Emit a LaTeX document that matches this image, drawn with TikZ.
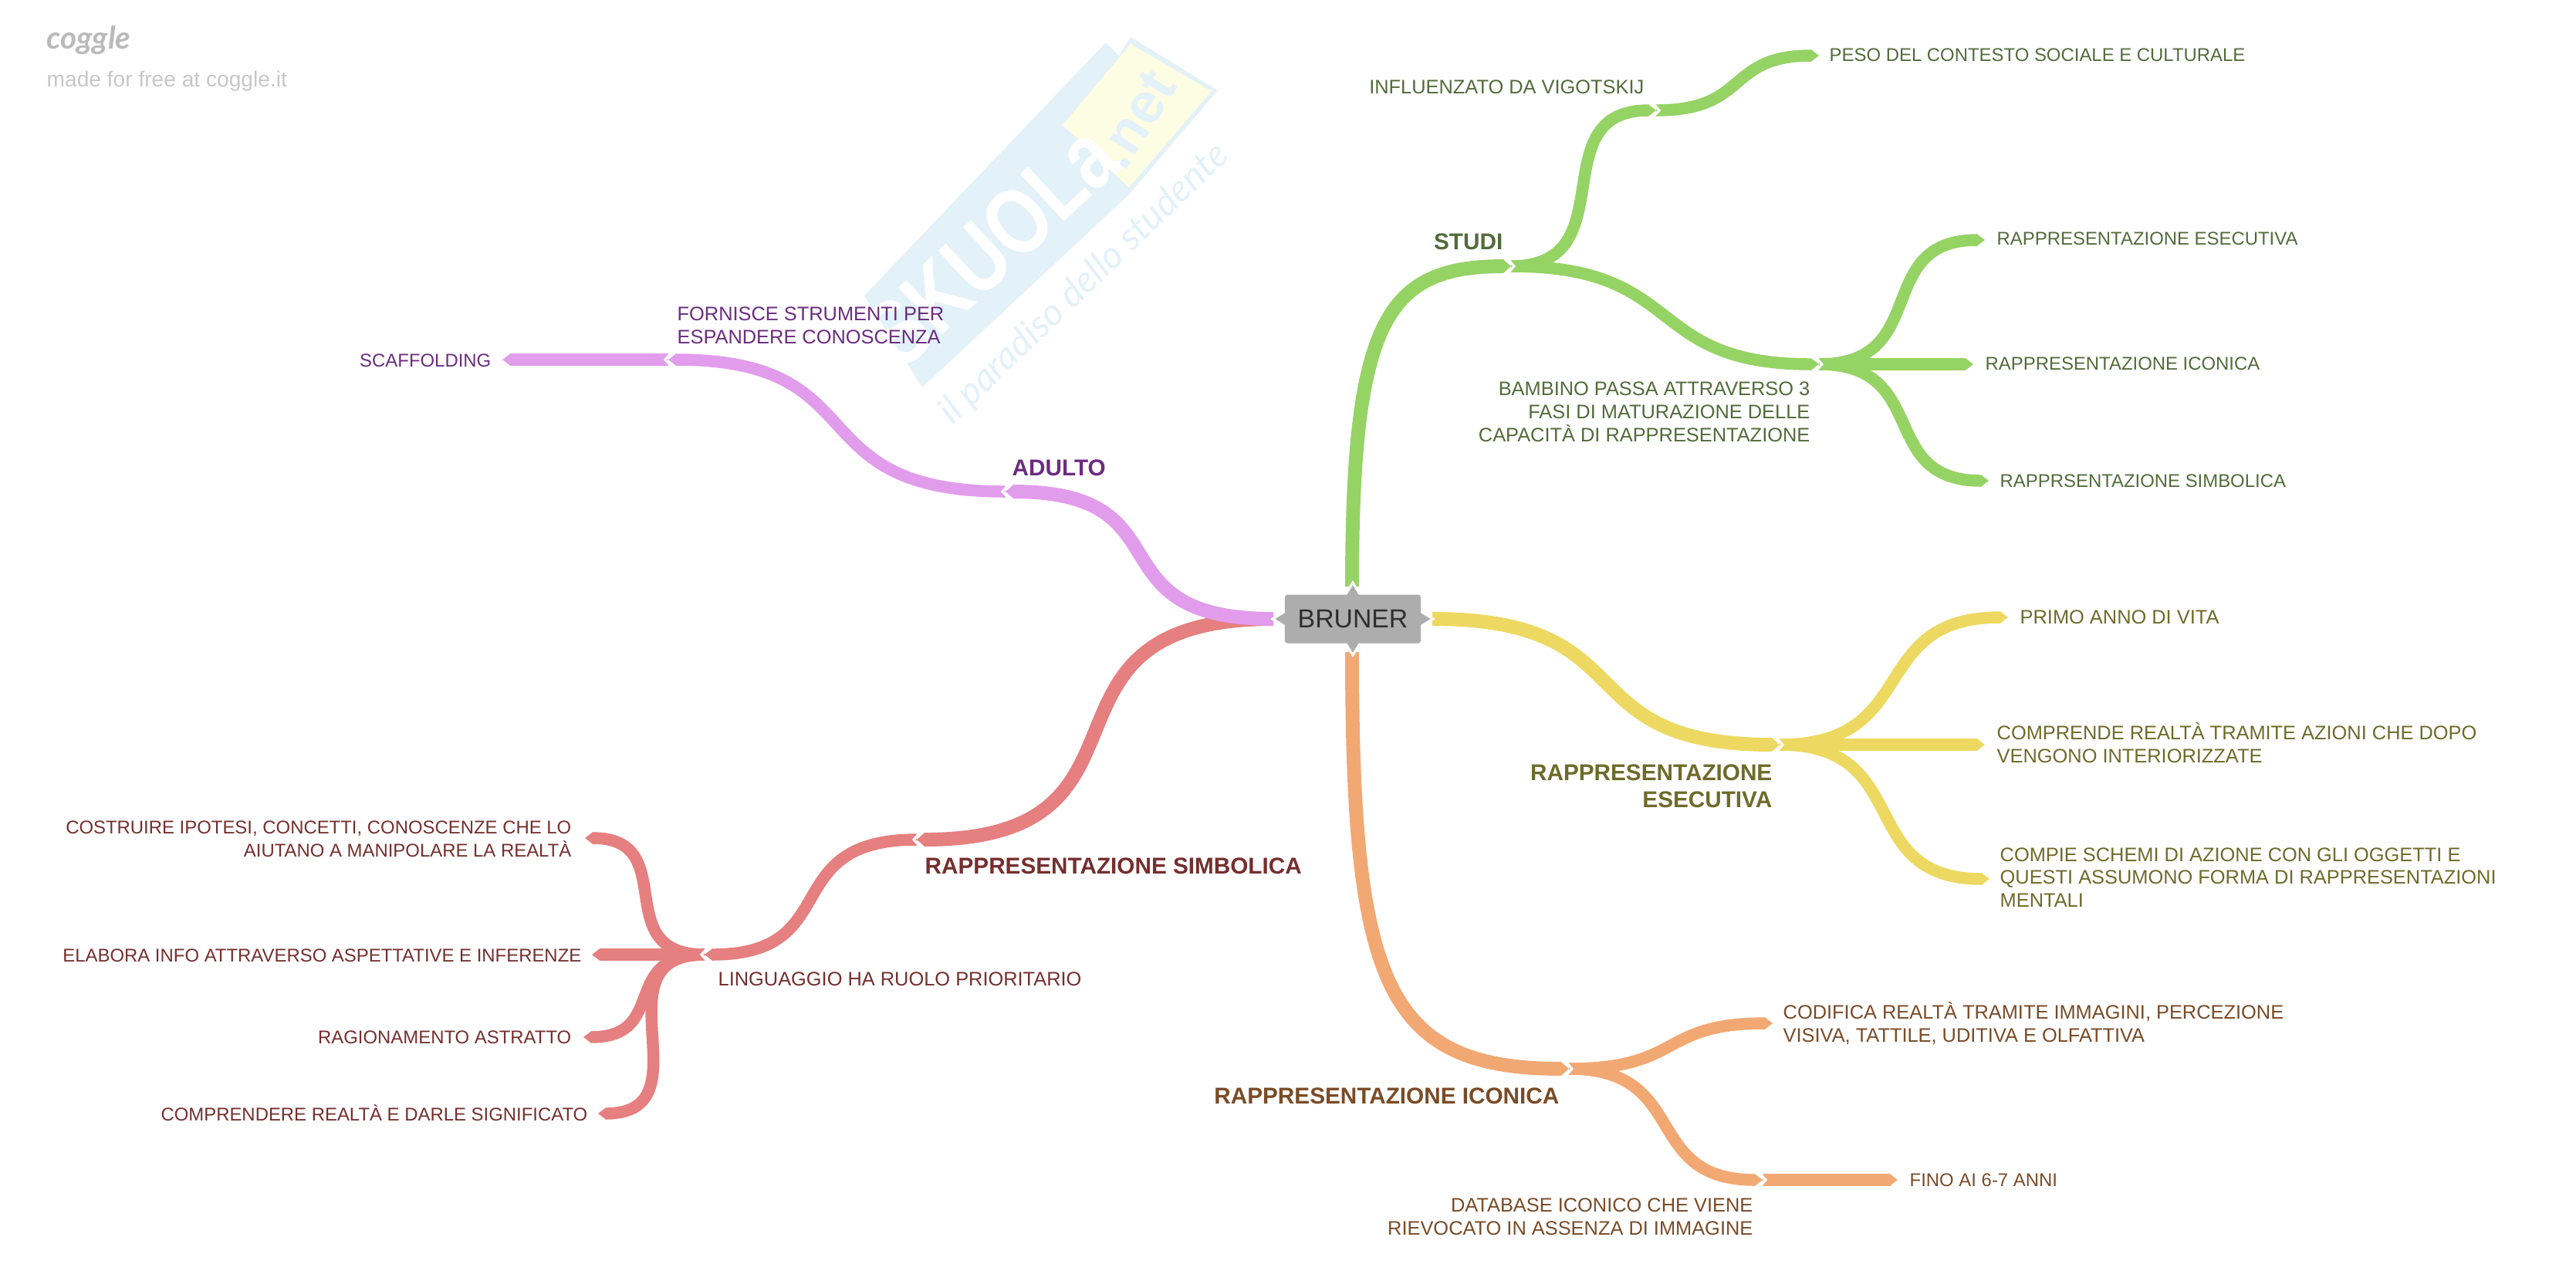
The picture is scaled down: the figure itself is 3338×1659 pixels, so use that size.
\documentclass[tikz,border=0pt]{standalone}
\usepackage{fontspec}
\setmainfont{Liberation Sans}
\newfontfamily\cursivo{Lato}
\usetikzlibrary{arrows.meta}
\definecolor{vedeB}{HTML}{96D365}
\definecolor{vedeT}{HTML}{526B3A}
\definecolor{gialB}{HTML}{EDD961}
\definecolor{gialT}{HTML}{6E6B2A}
\definecolor{araB}{HTML}{F2A873}
\definecolor{araT}{HTML}{7A4B27}
\definecolor{rosaB}{HTML}{E29CEC}
\definecolor{rosaT}{HTML}{6B2C80}
\definecolor{rossoB}{HTML}{E67F7F}
\definecolor{rossoT}{HTML}{752E2E}
\definecolor{logoB}{HTML}{E3F1F9}
\definecolor{logoG}{HTML}{FDFDE3}
\tikzset{
	ramo/.style={line width=#1pt, -{Triangle[length=3pt,width=#1pt]}},
	ramo/.default=4.4,
	tronco/.style={ramo=5.1},
	taglio/.style={white, line width=0.9pt, line join=miter},
	foglia/.style={inner sep=0pt, font=\fontsize{7.22}{8.5}\selectfont},
	foglina/.style={inner sep=0pt, font=\fontsize{6.8}{8.5}\selectfont},
	titolo/.style={inner sep=0pt, font=\fontsize{8.45}{10}\selectfont\bfseries},
}
\begin{document}
\begin{tikzpicture}[x=0.01cm,y=-0.01cm]
	\useasboundingbox (0,0) rectangle (3338,1659);

	% Logo di sfondo
	\fill[logoB] (1120,383) -- (1433,55) -- (1450,72) -- (1465,48) -- (1578,117) -- (1463,252) -- (1195,502) -- cycle;
	\fill[logoG] (1377,162) -- (1465,57) -- (1570,118) -- (1463,243) -- cycle;
	\node[rotate=43,xscale=.8,transform shape,white,inner sep=0pt,font=\fontsize{34.5}{34.5}\selectfont\bfseries] (sk) at (1285,318) {SKUOLa};
	\node[rotate=58,logoB,inner sep=0pt,font=\fontsize{21}{21}\selectfont\bfseries] (ne) at (1472,155) {.net};
	\node[rotate=44,logoB,inner sep=0pt,font=\fontsize{13.8}{13.8}\selectfont\cursivo\itshape] (pa) at (1405,368) {il paradiso dello studente};
	\node[anchor=west,inner sep=0pt,text=black!27,font=\fontsize{11.5}{11.5}\selectfont\cursivo\itshape\bfseries] (co) at (60,52) {coggle};
	\node[anchor=west,inner sep=0pt,text=black!22,font=\fontsize{8}{8}\selectfont] (fr) at (60,105) {made for free at coggle.it};

	% Giunzioni
	\coordinate (rg) at (1752,760);
	\coordinate (rb) at (1752,845);
	\coordinate (rl) at (1650,802);
	\coordinate (rr) at (1856,802);
	\coordinate (st) at (1958,345);
	\coordinate (vi) at (2146,143);
	\coordinate (ba) at (2357,472);
	\coordinate (es) at (2306,965);
	\coordinate (ic) at (2033,1385);
	\coordinate (db) at (2284,1529);
	\coordinate (ad) at (1303,637);
	\coordinate (fo) at (866,466);
	\coordinate (si) at (1188,1088);
	\coordinate (li) at (913,1237);
	% Estremi liberi
	\coordinate (e1) at (2357,72);
	\coordinate (e2) at (2572,311);
	\coordinate (e3) at (2557,472);
	\coordinate (e4) at (2577,623);
	\coordinate (e5) at (2602,800);
	\coordinate (e6) at (2572,965);
	\coordinate (e7) at (2578,1139);
	\coordinate (e8) at (2297,1326);
	\coordinate (e9) at (2459,1529);
	\coordinate (e10) at (651,466);
	\coordinate (e11) at (758,1086);
	\coordinate (e12) at (767,1237);
	\coordinate (e13) at (756,1344);
	\coordinate (e14) at (775,1443);

	% Rami
	\draw[tronco,rossoB] (rl) to[out=180,in=0,looseness=1.6] (si);
	\draw[ramo,rossoB] (si) to[out=180,in=0,looseness=1.5] (li);
	\draw[ramo,rossoB] (li) to[out=180,in=0,looseness=1.5] (e11);
	\draw[ramo,rossoB] (li) -- (e12);
	\draw[ramo,rossoB] (li) to[out=180,in=0,looseness=1.5] (e13);
	\draw[ramo,rossoB] (li) to[out=180,in=0,looseness=1.5] (e14);
	\draw[tronco,rosaB] (rl) to[out=180,in=0,looseness=1.6] (ad);
	\draw[ramo,rosaB] (ad) to[out=180,in=0,looseness=1.5] (fo);
	\draw[ramo,rosaB] (fo) -- (e10);
	\draw[tronco,vedeB] (rg) to[out=90,in=180,out looseness=1.9,in looseness=.9] (st);
	\draw[ramo,vedeB] (st) to[out=0,in=180,looseness=1.4] (vi);
	\draw[ramo,vedeB] (vi) to[out=0,in=180,looseness=1.4] (e1);
	\draw[ramo,vedeB] (st) to[out=0,in=180,looseness=1.4] (ba);
	\draw[ramo,vedeB] (ba) to[out=0,in=180,looseness=1.4] (e2);
	\draw[ramo,vedeB] (ba) -- (e3);
	\draw[ramo,vedeB] (ba) to[out=0,in=180,looseness=1.4] (e4);
	\draw[tronco,gialB] (rr) to[out=0,in=180,looseness=1.5] (es);
	\draw[ramo,gialB] (es) to[out=0,in=180,looseness=1.4] (e5);
	\draw[ramo,gialB] (es) -- (e6);
	\draw[ramo,gialB] (es) to[out=0,in=180,looseness=1.4] (e7);
	\draw[tronco,araB] (rb) to[out=270,in=180,out looseness=1.8,in looseness=1] (ic);
	\draw[ramo,araB] (ic) to[out=0,in=180,looseness=1.4] (e8);
	\draw[ramo,araB] (ic) to[out=0,in=180,looseness=1.4] (db);
	\draw[ramo,araB] (db) -- (e9);

	% Tagli bianchi sulle giunzioni
	\foreach \j/\d in {st/1,vi/1,ba/1,es/1,ic/1,db/1,ad/-1,fo/-1,si/-1,li/-1}
		\draw[taglio,shift={(\j)},xscale=\d] (-4,-9) -- (4,0) -- (-4,9);

	% Nodo centrale
	\foreach \a/\r in {0/88,90/31,180/88,270/31}
		\draw[white,line width=0.9pt,fill=black!32,shift={(1753,802)},rotate=\a] (\r-2,-11) -- (\r+16,0) -- (\r-2,11);
	\node[fill=black!32,rounded corners=1pt,inner sep=0pt,minimum width=1.76cm,minimum height=0.63cm,
		text=black!82,font=\fontsize{9.6}{12}\selectfont] (bruner) at (1753,802) {BRUNER};

	% Testi verdi
	\begin{scope}[text=vedeT]
		\node[foglia,anchor=east] (t1) at (2131,113) {INFLUENZATO DA VIGOTSKIJ};
		\node[foglina,anchor=west] (t2) at (2370,71) {PESO DEL CONTESTO SOCIALE E CULTURALE};
		\node[titolo,anchor=east] (t3) at (1948,313) {STUDI};
		\node[foglina,anchor=west] (t4) at (2587,309) {RAPPRESENTAZIONE ESECUTIVA};
		\node[foglina,anchor=west] (t5) at (2572,471) {RAPPRESENTAZIONE ICONICA};
		\node[foglina,anchor=west] (t6) at (2591,623) {RAPPRSENTAZIONE SIMBOLICA};
		\node[foglia,anchor=east,align=right] (t7) at (2346,534) {BAMBINO PASSA ATTRAVERSO 3\\FASI DI MATURAZIONE DELLE\\CAPACITÀ DI RAPPRESENTAZIONE};
	\end{scope}

	% Testi gialli
	\begin{scope}[text=gialT]
		\node[foglia,anchor=west] (t8) at (2617,800) {PRIMO ANNO DI VITA};
		\node[foglia,anchor=west,align=left] (t9) at (2587,963) {COMPRENDE REALTÀ TRAMITE AZIONI CHE DOPO\\VENGONO INTERIORIZZATE};
		\node[foglia,anchor=west,align=left] (t10) at (2591,1137) {COMPIE SCHEMI DI AZIONE CON GLI OGGETTI E\\QUESTI ASSUMONO FORMA DI RAPPRESENTAZIONI\\MENTALI};
		\node[titolo,anchor=east,align=right] (t11) at (2297,1019) {RAPPRESENTAZIONE\\ESECUTIVA};
	\end{scope}

	% Testi arancio
	\begin{scope}[text=araT]
		\node[titolo,anchor=east] (t12) at (2021,1420) {RAPPRESENTAZIONE ICONICA};
		\node[foglia,anchor=west,align=left] (t13) at (2310,1326) {CODIFICA REALTÀ TRAMITE IMMAGINI, PERCEZIONE\\VISIVA, TATTILE, UDITIVA E OLFATTIVA};
		\node[foglina,anchor=west] (t14) at (2474,1529) {FINO AI 6-7 ANNI};
		\node[foglia,anchor=east,align=right] (t15) at (2272,1577) {DATABASE ICONICO CHE VIENE\\RIEVOCATO IN ASSENZA DI IMMAGINE};
	\end{scope}

	% Testi rossi
	\begin{scope}[text=rossoT]
		\node[titolo,anchor=west] (t16) at (1198,1122) {RAPPRESENTAZIONE SIMBOLICA};
		\node[foglia,anchor=west] (t17) at (930,1269) {LINGUAGGIO HA RUOLO PRIORITARIO};
		\node[foglina,anchor=east,align=right] (t18) at (741,1087) {COSTRUIRE IPOTESI, CONCETTI, CONOSCENZE CHE LO\\AIUTANO A MANIPOLARE LA REALTÀ};
		\node[foglina,anchor=east] (t19) at (754,1238) {ELABORA INFO ATTRAVERSO ASPETTATIVE E INFERENZE};
		\node[foglina,anchor=east] (t20) at (741,1344) {RAGIONAMENTO ASTRATTO};
		\node[foglina,anchor=east] (t21) at (762,1442) {COMPRENDERE REALTÀ E DARLE SIGNIFICATO};
	\end{scope}

	% Testi viola
	\begin{scope}[text=rosaT]
		\node[foglia,anchor=west,align=left] (t22) at (877,422) {FORNISCE STRUMENTI PER\\ESPANDERE CONOSCENZA};
		\node[foglina,anchor=east] (t23) at (637,467) {SCAFFOLDING};
		\node[titolo,anchor=west] (t24) at (1311,606) {ADULTO};
	\end{scope}
\end{tikzpicture}
\end{document}
